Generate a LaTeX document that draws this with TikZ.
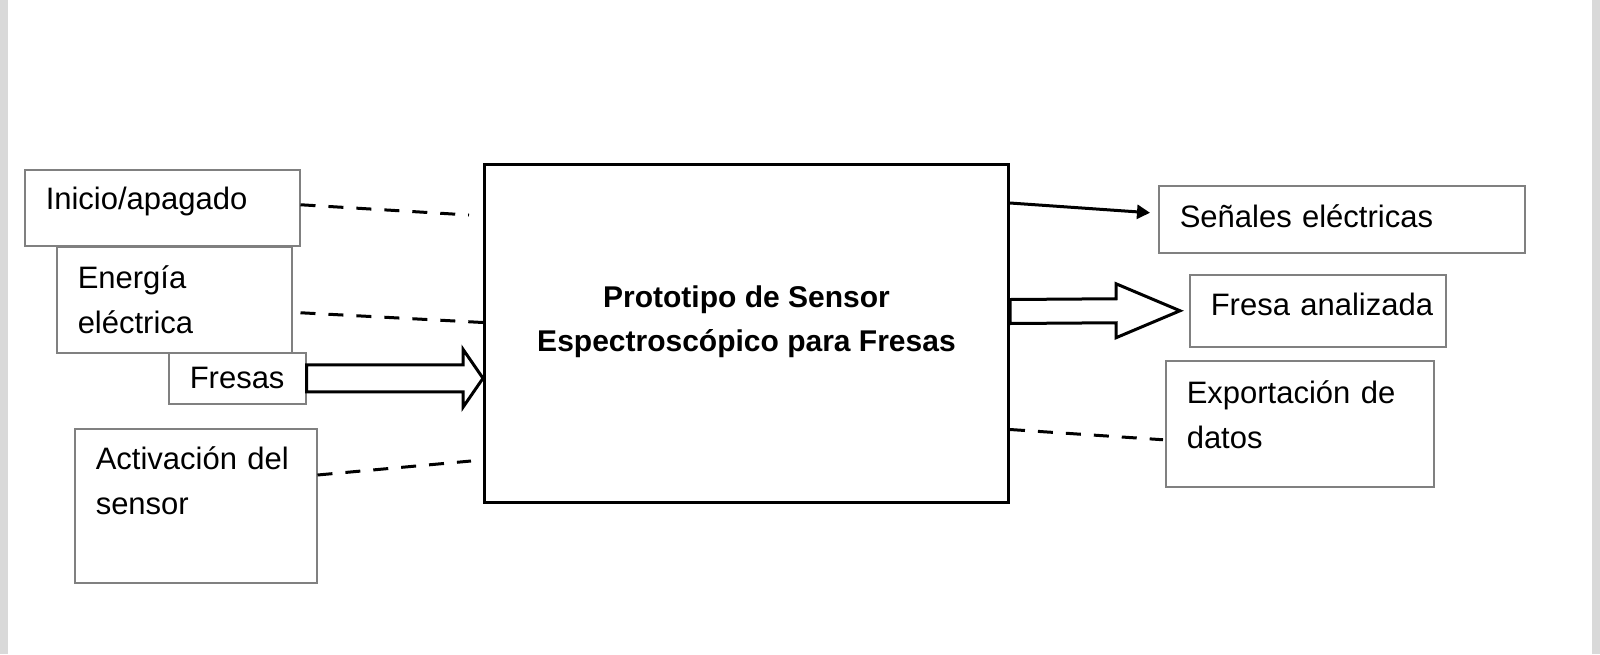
\documentclass[tikz,border=0pt]{standalone}
\usepackage{fontspec}
\setmainfont{Liberation Sans}
\usetikzlibrary{arrows.meta,calc}

\begin{document}
\begin{tikzpicture}[x=0.5pt,y=-0.5pt,
	caja/.style={draw=gray,line width=0.75pt,anchor=north west,align=left,inner xsep=10.5pt,inner ysep=0pt,font=\fontsize{15.5}{22.5}\selectfont},
	dsh/.style={line width=1.5pt,dash pattern=on 7.5pt off 6.5pt},
	hueca/.style={line width=1.5pt,fill=white,line join=miter}]
	
	% hoja
	\useasboundingbox (0,0) rectangle (1600,654);
	\fill[white] (0,0) rectangle (1600,654);
	\fill[gray!30] (0,0) rectangle (8,654);
	\fill[gray!30] (1592,0) rectangle (1600,654);
	
	\node[draw,line width=1.5pt,anchor=north west,minimum width=262pt,minimum height=169pt,align=center,text depth=15pt,font=\bfseries\fontsize{15}{22}\selectfont] (main) at (483,163) {Prototipo de Sensor\\Espectroscópico para Fresas};
	
	% entradas
	\node[caja,minimum width=137.5pt,minimum height=38pt,text width=116.5pt,text depth=9.5pt] (ini) at (24,169) {Inicio/apagado};
	\node[caja,minimum width=117.5pt,minimum height=53pt,text width=96.5pt] (ene) at (56,246) {Energía\\eléctrica};
	\node[caja,minimum width=68.5pt,minimum height=25.5pt,text width=47.5pt] (fre) at (168,352) {Fresas};
	\node[caja,minimum width=121pt,minimum height=77pt,text width=100pt,text depth=47.5pt] (act) at (74,428) {Activación del\\sensor};
	
	% salidas
	\node[caja,minimum width=183pt,minimum height=33.5pt,text width=162pt,text depth=3.5pt] (sen) at (1158,185) {Señales eléctricas};
	\node[caja,minimum width=128pt,minimum height=36pt,text width=107pt,text depth=6pt] (fan) at (1189,274) {\mbox{Fresa analizada}};
	\node[caja,minimum width=134pt,minimum height=63pt,text width=113pt,text depth=31.5pt] (exp) at (1165,360) {Exportación de\\datos};
	
	\coordinate (c1) at (469,215);
	\coordinate (c4) at (471,461);
	\coordinate (t2) at ([shift={(-9,0)}]fan.west);
	
	\draw[dsh] ([shift={(0,-3)}]ini.east) -- (c1);
	\draw[dsh] ([shift={(8,13)}]ene.east) -- ([shift={(0,-11)}]main.west);
	\draw[dsh] ([shift={(0,47)}]act.north east) -- (c4);
	\draw[dsh] ([shift={(0,96)}]main.east) -- ([shift={(-2,16)}]exp.west);
	
	\draw[line width=1.5pt,-{Triangle[length=6.5pt,width=7pt]}] ([shift={(0,40)}]main.north east) -- ([shift={(-8,-6.5)}]sen.west);
	
	\draw[hueca] ($(fre.east)+(0,-13.5)$) -- ($(fre.east -| main.west)+(-20,-13.5)$) -- ++(0,-15.5) -- (fre.east -| main.west) -- ++(-20,29) -- ++(0,-15.5) -- ($(fre.east)+(0,13.5)$) -- cycle;
	\draw[hueca] ($(main.east)+(0,-34)$) -- ($(t2)+(-64,-12)$) -- ++(0,-15) -- (t2) -- ++(-64,27) -- ++(0,-15) -- ($(main.east)+(0,-10)$) -- cycle;
\end{tikzpicture}
\end{document}
